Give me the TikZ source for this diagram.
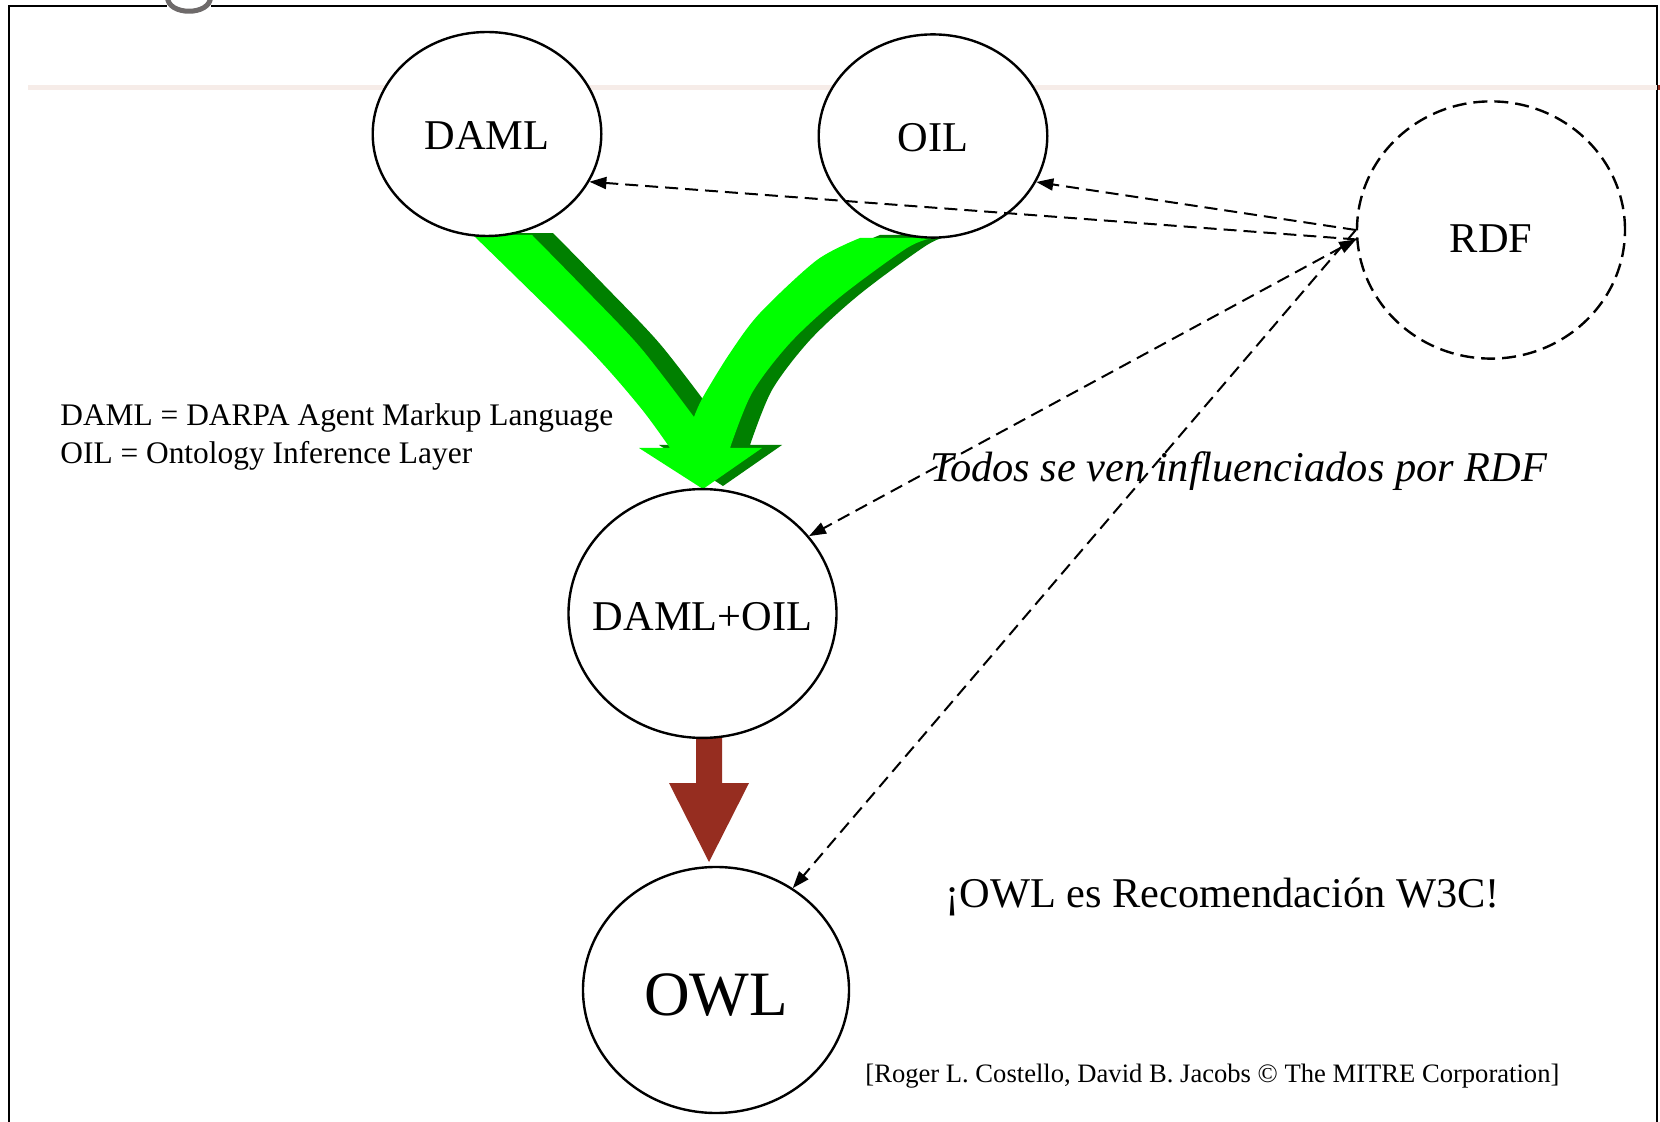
\documentclass[tikz,border=0pt]{standalone}
\usepackage{fontspec}
\setmainfont{Liberation Serif}
\usetikzlibrary{shapes.geometric,arrows.meta}
\definecolor{lightgreen}{RGB}{0,255,0}
\definecolor{darkgreen}{RGB}{0,128,0}
\definecolor{brick}{RGB}{150,45,32}
\definecolor{rulepink}{RGB}{246,236,232}
\definecolor{titlegray}{RGB}{110,106,106}

% outline of the merging green arrow (DAML and OIL flowing into DAML+OIL)
\newcommand\forkpath{(473,235) -- (532,235)
  -- plot[smooth] coordinates {(532,235) (583,287) (640,347) (694,417)}
  -- plot[smooth] coordinates {(694,417) (703,397) (730,353) (760,313) (817,260) (860,238)}
  -- (933,238)
  -- plot[smooth] coordinates {(933,238) (907,248) (840,297) (790,343) (752,393) (730,448)}
  -- (762,448) -- (703,489) -- (639,448) -- (670,448)
  -- plot[smooth] coordinates {(670,448) (640,407) (587,347) (473,235)} -- cycle}

\begin{document}
\begin{tikzpicture}[x=0.5pt,y=-0.5pt,
  lang/.style={ellipse, draw, line width=1.2pt, fill=white, inner sep=0pt},
  langname/.style={font=\fontsize{21.2}{25}\selectfont, inner sep=0pt},
  influence/.style={draw, line width=1pt, dash pattern=on 6.5pt off 3.5pt,
    -{Triangle[length=8.5pt,width=6pt]}},
  note/.style={anchor=base west, inner sep=0pt}
]
\useasboundingbox (0,0) rectangle (1660,1122);
\fill[white] (0,0) rectangle (1660,1122);
\clip (0,0) rectangle (1660,1122);

% slide frame
\draw[line width=1pt] (9,1130) -- (9,6) -- (1657,6) -- (1657,1130);
% tail of the title glyph
\fill[white] (167,-2) rectangle (211,10);
\draw[titlegray, line width=2.5pt] (167.5,-3) .. controls (167.5,16) and (210.5,16) .. (210.5,-3);

% header rule
\draw[rulepink, line width=2.5pt] (28,88) -- (1657,88);
\draw[brick, line width=2.5pt] (1658,88) -- (1664,88);

% green fork arrow with its darker extrusion
\begin{scope}
  \clip (0,234) rectangle (1660,1122);
  \fill[darkgreen, shift={(20,-3)}] \forkpath;
\end{scope}
\fill[lightgreen] \forkpath;

% red arrow DAML+OIL -> OWL
\fill[brick] (696,735) -- (722,735) -- (722,783) -- (749,783) -- (709,862)
  -- (669,783) -- (696,783) -- cycle;

% languages
\node[lang, minimum width=114.3pt, minimum height=102pt,
  label={[langname, yshift=-1pt] center:DAML}] (daml) at (487,134) {};
\node[lang, minimum width=114.3pt, minimum height=101.6pt,
  label={[langname, yshift=-1pt] center:OIL}] (oil) at (933,136) {};
\node[lang, dash pattern=on 7pt off 3.5pt, minimum width=134pt, minimum height=128.6pt,
  label={[langname, yshift=-4.2pt] center:RDF}] (rdf) at (1491,230) {};
\node[lang, minimum width=134pt, minimum height=124.4pt,
  label={[langname, yshift=-1.6pt] center:DAML+OIL}] (dao) at (702.5,613.5) {};
\node[lang, minimum width=133pt, minimum height=123pt,
  label={[langname, font=\fontsize{31.6}{36}\selectfont, yshift=-2.6pt] center:OWL}] (owl) at (716,990) {};

% influence of RDF
\draw[influence] (rdf.184) -- (daml.-25);
\draw[influence] (rdf.west) -- (oil.-24.5);
\draw[influence, {Triangle[length=8.5pt,width=6pt]}-{Triangle[length=8.5pt,width=6pt]}] (rdf.184) -- (dao.36);
\draw[influence] (rdf.west) -- (owl.53);

% texts
\node[note, font=\fontsize{15.7}{19}\selectfont] (abbr1) at (60,425.5) {DAML = DARPA Agent Markup Language};
\node[note, font=\fontsize{15.7}{19}\selectfont] (abbr2) at (60,463.5) {OIL = Ontology Inference Layer};
\node[note, font=\fontsize{21.2}{25}\selectfont\itshape] (todos) at (930,482) {Todos se ven influenciados por RDF};
\node[note, font=\fontsize{21.2}{25}\selectfont] (w3c) at (945,907) {¡OWL es Recomendación W3C!};
\node[note, font=\fontsize{13.3}{16}\selectfont] (credit) at (865,1082) {[Roger L. Costello, David B. Jacobs © The MITRE Corporation]};
\end{tikzpicture}
\end{document}
